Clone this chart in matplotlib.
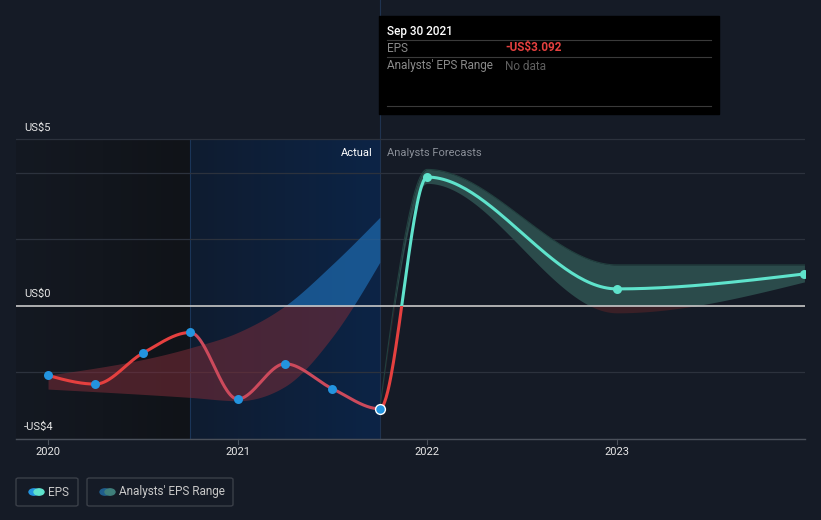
import numpy as np
import matplotlib
matplotlib.use("Agg")
import matplotlib.pyplot as plt
from matplotlib.patches import Rectangle, FancyBboxPatch, Circle

plt.rcParams['font.family'] = ['Roboto', 'DejaVu Sans']

# data (decimal years)
eps_x = [2020.0, 2020.25, 2020.5, 2020.75, 2021.0, 2021.25, 2021.5, 2021.75, 2022.0, 2023.0, 2023.99]
eps_y = [-2.09, -2.35, -1.42, -0.80, -2.80, -1.74, -2.49, -3.092, 3.87, 0.51, 0.96]
n_actual = 8

past_rng_x = [2020.0, 2020.75, 2021.0, 2021.25, 2021.5, 2021.75]
past_hi = [-2.08, -1.26, -0.80, 0.0, 1.25, 2.66]
past_lo = [-2.50, -2.75, -2.85, -2.42, -0.93, 1.31]

fc_rng_x = [2021.75, 2022.0, 2023.0, 2023.99]
fc_hi = [-3.092, 4.10, 1.23, 1.23]
fc_lo = [-3.092, 3.68, -0.21, 0.72]

yticks = [5, 0, -4]
ylabels = ["US$5", "US$0", "-US$4"]
grid_vals = [5, 4, 2, -2, -4]
xticks = [2020, 2021, 2022, 2023]

BG = "#151b26"
RED = "#e5403f"
PINK = "#cc4a5c"
TEAL = "#5fe3cc"
BLUE = "#2394df"


def monotone(xs, ys, n=60):
    xs = np.asarray(xs, float)
    ys = np.asarray(ys, float)
    h = np.diff(xs)
    s = np.diff(ys) / h
    t = np.zeros(len(xs))
    for i in range(1, len(xs) - 1):
        p = (s[i - 1] * h[i] + s[i] * h[i - 1]) / (h[i - 1] + h[i])
        t[i] = (np.sign(s[i - 1]) + np.sign(s[i])) * min(abs(s[i - 1]), abs(s[i]), 0.5 * abs(p))
    t[0] = (3 * s[0] - t[1]) / 2
    t[-1] = (3 * s[-1] - t[-2]) / 2
    ox, oy = [], []
    for i in range(len(xs) - 1):
        u = np.linspace(0, 1, n)
        h00 = 2 * u**3 - 3 * u**2 + 1
        h10 = u**3 - 2 * u**2 + u
        h01 = -2 * u**3 + 3 * u**2
        h11 = u**3 - u**2
        ox.append(xs[i] + u * h[i])
        oy.append(h00 * ys[i] + h10 * h[i] * t[i] + h01 * ys[i + 1] + h11 * h[i] * t[i + 1])
    return np.concatenate(ox), np.concatenate(oy)


fig = plt.figure(figsize=(8.21, 5.20), dpi=100, facecolor=BG)
ax = fig.add_axes([16 / 821, 81 / 520, 789 / 821, 439 / 520])
ax.set_facecolor(BG)
x0, x1 = 2019.831, 2023.993
ymin, ymax = -4, 9.19
ax.set_xlim(x0, x1)
ax.set_ylim(ymin, ymax)
for sp in ax.spines.values():
    sp.set_visible(False)
ax.set_xticks([])
ax.set_yticks([])

# shaded past regions
grad = np.linspace(0, 1, 200).reshape(1, -1)
ax.imshow(grad, extent=[x0, 2020.75, ymin, 5], aspect="auto", zorder=0,
          cmap=matplotlib.colors.LinearSegmentedColormap.from_list("d", ["#141922", "#101318"]))
ax.imshow(grad, extent=[2020.75, 2021.75, ymin, 5], aspect="auto", zorder=0,
          cmap=matplotlib.colors.LinearSegmentedColormap.from_list("b", ["#0f1c30", "#0c2446"]))
ax.axvline(2020.75, ymax=(5 - ymin) / (ymax - ymin), color="#1a3558", lw=0.8, zorder=0.5)
ax.axvline(2021.75, color="#1f3350", lw=0.8, zorder=0.5)

# gridlines
for g in grid_vals:
    ax.axhline(g, color="#2c323d", lw=0.9, zorder=1)
ax.axhline(0, color="#c8c8c8", lw=1.2, zorder=3)


def clip_box(xa, xb, ya, yb):
    return Rectangle((xa, ya), xb - xa, yb - ya, transform=ax.transData)


# past range band
bx, bhi = monotone(past_rng_x, past_hi)
_, blo = monotone(past_rng_x, past_lo)
f = ax.fill_between(bx, blo, bhi, color="#1e6bb0", alpha=0.7, lw=0, zorder=2)
f.set_clip_path(clip_box(x0, x1, 0, ymax))
f = ax.fill_between(bx, blo, bhi, color="#7a2c38", alpha=0.55, lw=0, zorder=2)
f.set_clip_path(clip_box(x0, x1, ymin, 0))

# forecast range band
fx, fhi = monotone(fc_rng_x, fc_hi)
_, flo = monotone(fc_rng_x, fc_lo)
f = ax.fill_between(fx, flo, fhi, color="#2b4b4b", lw=0, zorder=2)
f.set_clip_path(clip_box(x0, x1, 0, ymax))
f = ax.fill_between(fx, flo, fhi, color="#3a2027", lw=0, zorder=2)
f.set_clip_path(clip_box(x0, x1, ymin, 0))
ax.plot(fx, fhi, color="#22403f", lw=0.8, zorder=2)

# EPS line
lx, ly = monotone(eps_x, eps_y)
for col, box in [(TEAL, clip_box(x0, x1, 0, ymax)),
                 (RED, clip_box(x0, 2020.75, ymin, 0)),
                 (PINK, clip_box(2020.75, 2021.75, ymin, 0)),
                 (RED, clip_box(2021.75, x1, ymin, 0))]:
    ln, = ax.plot(lx, ly, color=col, lw=2.2, zorder=4, solid_capstyle="round")
    ln.set_clip_path(box)

ax.scatter(eps_x[:n_actual - 1], eps_y[:n_actual - 1], s=42, color=BLUE, zorder=6, lw=0)
ax.scatter([eps_x[n_actual - 1]], [eps_y[n_actual - 1]], s=50, color=BLUE, edgecolor="white", lw=1, zorder=6)
ax.scatter(eps_x[n_actual:], eps_y[n_actual:], s=42, color=TEAL, zorder=6, lw=0)

# y labels
for v, lab in zip(yticks, ylabels):
    ax.text(2019.872, v + 0.2, lab, color="#e6e6e6", fontsize=8, va="bottom", ha="left", zorder=7)

ax.text(2021.71, 4.6, "Actual", color="white", fontsize=8, ha="right", va="center", zorder=7)
ax.text(2021.79, 4.6, "Analysts Forecasts", color="#8a8f98", fontsize=8, ha="left", va="center", zorder=7)

# x ticks
for t in xticks:
    ax.plot([t, t], [ymin, ymin - 0.15], color="#4a505a", lw=0.8, clip_on=False)
    fig.text((16 + (t - x0) / (x1 - x0) * 789) / 821, 1 - 452 / 520, str(t),
             color="#e6e6e6", fontsize=8, ha="center", va="center")
ax.plot([x0, x1], [ymin, ymin], color="#4a505a", lw=1, clip_on=False)


# tooltip
def fx_(px):
    return px / 821


def fy_(py):
    return 1 - py / 520


fig.patches.append(Rectangle((fx_(379), fy_(114)), fx_(340), 98 / 520, transform=fig.transFigure,
                             color="black", zorder=10))
fig.text(fx_(387), fy_(31), "Sep 30 2021", color="white", fontsize=8.5, va="center", zorder=11, weight="medium")
for yy in (40, 57, 106):
    fig.lines.append(plt.Line2D([fx_(387), fx_(711)], [fy_(yy), fy_(yy)], transform=fig.transFigure,
                                color="#3a3a3a", lw=0.8, zorder=11))
fig.text(fx_(387), fy_(48), "EPS", color="#8a8a8a", fontsize=8.5, va="center", zorder=11)
fig.text(fx_(505), fy_(48), "-US$3.092", color="#e5403f", fontsize=8.5, va="center", zorder=11, weight="bold")
fig.text(fx_(387), fy_(66), "Analysts' EPS Range", color="#8a8a8a", fontsize=8.5, va="center", zorder=11)
fig.text(fx_(505), fy_(66), "No data", color="#5f5f5f", fontsize=8.5, va="center", zorder=11)

# legend
for bx0, bw, lab, c1, c2 in [(16, 62, "EPS", BLUE, TEAL), (87, 146, "Analysts' EPS Range", "#1f5d8c", "#3f7f7b")]:
    fig.patches.append(FancyBboxPatch((fx_(bx0), fy_(506)), fx_(bw), 28 / 520, transform=fig.transFigure,
                                      boxstyle="round,pad=0,rounding_size=0.003", fc=BG, ec="#3a3f48", lw=1))
    cx, cy = bx0 + 18, 492
    fig.patches.append(Circle((fx_(cx), fy_(cy)), 5 / 821, transform=fig.transFigure, color=c1, zorder=3))
    fig.patches.append(Circle((fx_(cx + 5), fy_(cy)), 5 / 821, transform=fig.transFigure, color=c2, zorder=4))
    fig.text(fx_(cx + 14), fy_(cy), lab, color="#c8c8c8", fontsize=8.5, va="center")

fig.savefig("out.png", dpi=100, facecolor=BG)
